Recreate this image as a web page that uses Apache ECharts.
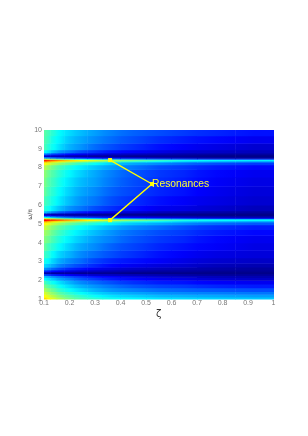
<!DOCTYPE html>
<html><head><meta charset="utf-8">
<style>html,body{margin:0;padding:0;background:#fff}#c{width:308px;height:436px}</style>
<script src="https://cdn.jsdelivr.net/npm/echarts@6/dist/echarts.min.js"></script>
</head><body><div id="c"></div>
<script>
const zetaEdges=[0.1,0.11,0.125,0.15,0.18,0.22,0.27,0.33,0.4,0.5,0.6,0.7,0.85,1.0];
const freqEdges=[1,1.1,1.25,1.4,1.6,1.8,2,2.15,2.25,2.35,2.45,2.55,2.7,2.9,3.2,3.6,4,4.4,4.7,4.95,5.1,5.17,5.27,5.33,5.42,5.5,5.58,5.7,6,6.5,7,7.5,7.9,8.15,8.3,8.36,8.44,8.5,8.58,8.68,8.78,8.95,9.3,9.7,10];
const magnitude=[
[.66,.63,.59,.54,.49,.45,.42,.39,.37,.35,.34,.33,.32],
[.62,.59,.55,.50,.46,.42,.38,.35,.33,.31,.30,.29,.28],
[.58,.55,.51,.46,.42,.38,.34,.31,.29,.27,.26,.25,.24],
[.54,.51,.47,.42,.38,.34,.30,.27,.25,.23,.22,.21,.20],
[.49,.46,.43,.38,.34,.30,.27,.24,.21,.19,.18,.16,.15],
[.44,.41,.38,.34,.30,.26,.23,.20,.17,.15,.14,.12,.11],
[.37,.35,.32,.28,.25,.21,.18,.15,.13,.11,.10,.08,.07],
[.31,.29,.26,.23,.20,.17,.14,.12,.10,.08,.07,.06,.05],
[.20,.18,.16,.14,.12,.10,.08,.07,.06,.05,.04,.03,.03],
[.04,.04,.03,.03,.03,.02,.02,.02,.01,.01,.01,.01,.01],
[.16,.15,.13,.11,.09,.07,.06,.05,.04,.03,.03,.02,.02],
[.27,.25,.22,.19,.16,.14,.11,.09,.07,.06,.05,.04,.03],
[.34,.32,.29,.25,.22,.19,.16,.13,.11,.09,.08,.06,.05],
[.39,.37,.33,.29,.26,.23,.19,.16,.14,.12,.10,.08,.07],
[.43,.41,.37,.33,.30,.26,.23,.20,.17,.14,.12,.10,.09],
[.47,.44,.41,.37,.33,.29,.26,.22,.19,.16,.14,.12,.10],
[.50,.48,.44,.40,.36,.32,.28,.25,.21,.18,.16,.13,.11],
[.53,.51,.47,.43,.39,.35,.31,.27,.23,.20,.18,.15,.13],
[.57,.54,.50,.46,.42,.38,.34,.30,.26,.23,.20,.17,.15],
[.63,.60,.56,.52,.48,.44,.40,.36,.32,.29,.26,.23,.21],
[.70,.68,.64,.60,.56,.52,.48,.44,.40,.37,.33,.30,.28],
[.87,.84,.80,.76,.71,.66,.61,.56,.50,.45,.40,.38,.37],
[.62,.59,.55,.50,.45,.40,.35,.31,.27,.24,.21,.18,.16],
[.38,.35,.31,.27,.23,.20,.17,.14,.12,.10,.08,.07,.06],
[.12,.11,.09,.08,.06,.05,.04,.04,.03,.02,.02,.01,.01],
[.07,.06,.05,.05,.04,.03,.03,.02,.02,.01,.01,.01,.01],
[.31,.28,.25,.21,.18,.15,.12,.10,.08,.06,.05,.04,.03],
[.41,.39,.35,.31,.27,.24,.20,.17,.14,.11,.10,.08,.06],
[.44,.42,.39,.35,.31,.27,.24,.20,.17,.14,.12,.10,.08],
[.47,.44,.41,.37,.33,.29,.26,.22,.19,.16,.14,.11,.09],
[.49,.46,.43,.39,.35,.31,.28,.24,.20,.17,.15,.12,.10],
[.51,.48,.45,.41,.37,.33,.29,.25,.21,.18,.16,.13,.11],
[.55,.52,.48,.44,.40,.36,.32,.28,.24,.20,.18,.15,.13],
[.62,.59,.55,.51,.47,.42,.38,.33,.29,.26,.23,.20,.18],
[.72,.69,.65,.61,.57,.53,.49,.45,.41,.37,.33,.30,.28],
[.84,.81,.77,.72,.67,.63,.58,.54,.48,.43,.39,.37,.36],
[.58,.55,.51,.46,.42,.38,.34,.30,.27,.24,.21,.18,.17],
[.27,.25,.22,.19,.16,.14,.11,.09,.08,.06,.05,.04,.03],
[.09,.08,.07,.06,.05,.04,.03,.03,.02,.02,.02,.01,.01],
[.23,.21,.18,.16,.13,.11,.09,.07,.06,.05,.04,.03,.03],
[.37,.35,.31,.27,.24,.20,.17,.14,.12,.10,.08,.07,.06],
[.44,.41,.38,.34,.30,.27,.23,.20,.17,.14,.12,.10,.08],
[.45,.43,.39,.36,.32,.29,.26,.23,.20,.17,.15,.13,.11],
[.46,.44,.41,.37,.34,.31,.28,.25,.22,.20,.18,.16,.14]
];
const jet=['#00007f','#0000ff','#007fff','#00ffff','#7fff7f','#ffff00','#ff7f00','#ff0000','#7f0000'];
const xTicks=['0.1','0.2','0.3','0.4','0.5','0.6','0.7','0.8','0.9','1'];
const yTicks=['1','2','3','4','5','6','7','8','9','10'];
const callout=[[0.359,8.4],[0.5235,7.125],[0.359,5.2]];
const calloutLabel='Resonances';

// each cell: zeta range, freq range, its value and its neighbours' values (for interpolated shading)
const cells=[];
magnitude.forEach((row,r)=>row.forEach((v,c)=>cells.push([
  zetaEdges[c],zetaEdges[c+1],freqEdges[r],freqEdges[r+1],v,
  row[Math.max(c-1,0)],row[Math.min(c+1,row.length-1)]])));
const shade=v=>echarts.color.lerp(v,jet);

const chart=echarts.init(document.getElementById('c'),null,{renderer:'canvas'});
const tickText={color:'#777',fontSize:7,fontFamily:'Liberation Sans'};
chart.setOption({
  animation:false,
  backgroundColor:'#fff',
  grid:{left:44,top:130,width:229.5,height:169},
  xAxis:{type:'value',min:0.1,max:1,interval:0.1,name:'ζ',nameLocation:'middle',nameGap:10,
    nameTextStyle:{color:'#333',fontSize:10,fontFamily:'DejaVu Sans'},
    axisLine:{show:false},axisTick:{show:false},splitLine:{show:false},
    axisLabel:Object.assign({margin:1,formatter:v=>xTicks[Math.round(v*10)-1]},tickText)},
  yAxis:{type:'value',min:1,max:10,interval:1,name:'ω/π',nameLocation:'middle',nameGap:11,nameMoveOverlap:false,
    nameTextStyle:{color:'#444',fontSize:6,fontFamily:'DejaVu Sans'},
    axisLine:{show:false},axisTick:{show:false},splitLine:{show:false},
    axisLabel:Object.assign({margin:2,formatter:v=>yTicks[v-1]},tickText)},
  series:[
    {type:'custom',data:cells,encode:{x:[0,1],y:[2,3]},silent:true,
     renderItem(params,api){
       const a=api.coord([api.value(0),api.value(3)]);
       const b=api.coord([api.value(1),api.value(2)]);
       const v=api.value(4),l=(v+api.value(5))/2,r=(v+api.value(6))/2;
       return {type:'rect',shape:{x:a[0],y:a[1],width:b[0]-a[0]+0.5,height:b[1]-a[1]+0.5},
         style:{fill:new echarts.graphic.LinearGradient(0,0,1,0,[
           {offset:0,color:shade(l)},{offset:0.5,color:shade(v)},{offset:1,color:shade(r)}])}};
     }},
    {type:'line',data:callout,z:5,silent:true,symbol:'rect',symbolSize:4,
     lineStyle:{color:'#ffff00',width:1.4},itemStyle:{color:'#ffff00'},
     label:{show:true,position:'right',distance:-2,color:'#ffff33',fontSize:10.3,fontFamily:'Liberation Sans',
       formatter:p=>p.dataIndex===1?calloutLabel:''}}
  ]
});
</script></body></html>
